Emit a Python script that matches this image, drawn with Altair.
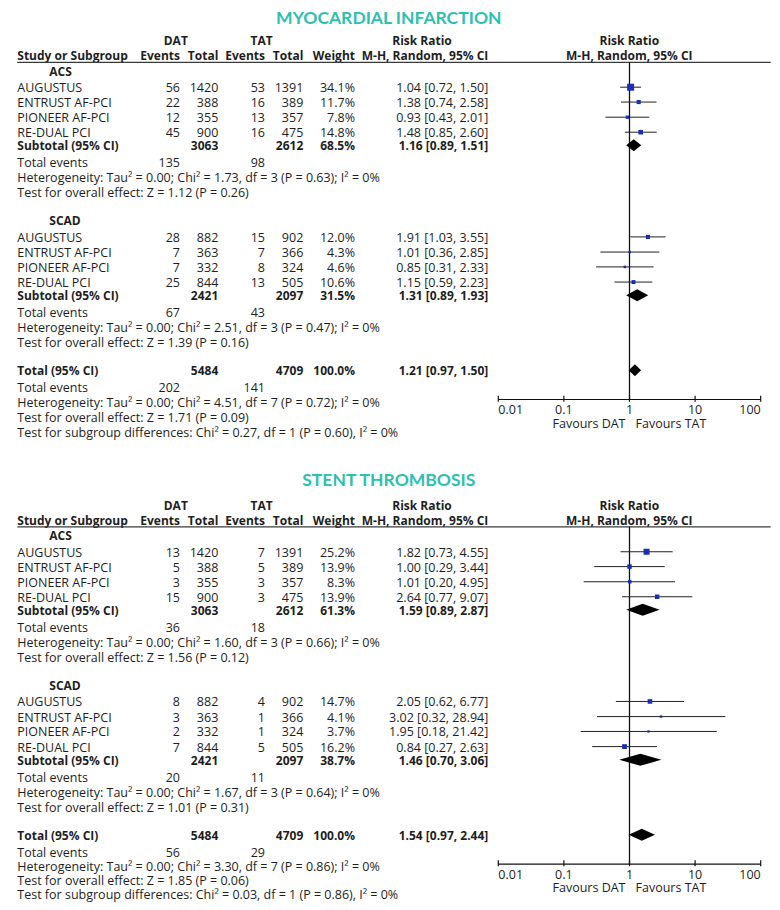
import altair as alt
import pandas as pd

# ------------------------------------------------------------------ data
outcomes = ["MYOCARDIAL INFARCTION", "STENT THROMBOSIS"]
subgroups = ["ACS", "SCAD"]
studies = ["AUGUSTUS", "ENTRUST AF-PCI", "PIONEER AF-PCI", "RE-DUAL PCI"]

# [outcome][subgroup][study]
dat_events = [[[56, 22, 12, 45], [28, 7, 7, 25]],
              [[13, 5, 3, 15], [8, 3, 2, 7]]]
dat_total = [[[1420, 388, 355, 900], [882, 363, 332, 844]],
             [[1420, 388, 355, 900], [882, 363, 332, 844]]]
tat_events = [[[53, 16, 13, 16], [15, 7, 8, 13]],
              [[7, 5, 3, 3], [4, 1, 1, 5]]]
tat_total = [[[1391, 389, 357, 475], [902, 366, 324, 505]],
             [[1391, 389, 357, 475], [902, 366, 324, 505]]]
weights = [[[34.1, 11.7, 7.8, 14.8], [12.0, 4.3, 4.6, 10.6]],
           [[25.2, 13.9, 8.3, 13.9], [14.7, 4.1, 3.7, 16.2]]]
rr = [[[1.04, 1.38, 0.93, 1.48], [1.91, 1.01, 0.85, 1.15]],
      [[1.82, 1.00, 1.01, 2.64], [2.05, 3.02, 1.95, 0.84]]]
rr_lo = [[[0.72, 0.74, 0.43, 0.85], [1.03, 0.36, 0.31, 0.59]],
         [[0.73, 0.29, 0.20, 0.77], [0.62, 0.32, 0.18, 0.27]]]
rr_hi = [[[1.50, 2.58, 2.01, 2.60], [3.55, 2.85, 2.33, 2.23]],
         [[4.55, 3.44, 4.95, 9.07], [6.77, 28.94, 21.42, 2.63]]]

# [outcome][subgroup]
sub_dat_total = [[3063, 2421], [3063, 2421]]
sub_tat_total = [[2612, 2097], [2612, 2097]]
sub_weight = [[68.5, 31.5], [61.3, 38.7]]
sub_rr = [[1.16, 1.31], [1.59, 1.46]]
sub_lo = [[0.89, 0.89], [0.89, 0.70]]
sub_hi = [[1.51, 1.93], [2.87, 3.06]]
sub_dat_events = [[135, 67], [36, 20]]
sub_tat_events = [[98, 43], [18, 11]]
sub_het = [["Heterogeneity: Tau² = 0.00; Chi² = 1.73, df = 3 (P = 0.63); I² = 0%",
            "Heterogeneity: Tau² = 0.00; Chi² = 2.51, df = 3 (P = 0.47); I² = 0%"],
           ["Heterogeneity: Tau² = 0.00; Chi² = 1.60, df = 3 (P = 0.66); I² = 0%",
            "Heterogeneity: Tau² = 0.00; Chi² = 1.67, df = 3 (P = 0.64); I² = 0%"]]
sub_z = [["Test for overall effect: Z = 1.12 (P = 0.26)",
          "Test for overall effect: Z = 1.39 (P = 0.16)"],
         ["Test for overall effect: Z = 1.56 (P = 0.12)",
          "Test for overall effect: Z = 1.01 (P = 0.31)"]]

# [outcome]
tot_dat_total = [5484, 5484]
tot_tat_total = [4709, 4709]
tot_weight = [100.0, 100.0]
tot_rr = [1.21, 1.54]
tot_lo = [0.97, 0.97]
tot_hi = [1.50, 2.44]
tot_dat_events = [202, 56]
tot_tat_events = [141, 29]
tot_het = ["Heterogeneity: Tau² = 0.00; Chi² = 4.51, df = 7 (P = 0.72); I² = 0%",
           "Heterogeneity: Tau² = 0.00; Chi² = 3.30, df = 7 (P = 0.86); I² = 0%"]
tot_z = ["Test for overall effect: Z = 1.71 (P = 0.09)",
         "Test for overall effect: Z = 1.85 (P = 0.06)"]
subgroup_test = ["Test for subgroup differences: Chi² = 0.27, df = 1 (P = 0.60), I² = 0%",
                 "Test for subgroup differences: Chi² = 0.03, df = 1 (P = 0.86), I² = 0%"]

axis_ticks = [0.01, 0.1, 1, 10, 100]
axis_tick_labels = ["0.01", "0.1", "1", "10", "100"]

# ------------------------------------------------------------------ layout (row units, 15 px each)
PANEL_OFFSET = [0.0, 30.97]
TITLE_ROWS = [0.7, 0.55]
HEAD1_ROW = 2.13
HEAD2_ROW = 3.13
RULE_ROW = 3.62
GROUP_ROWS = [4.18, 14.13]
STUDY_ROWS = [[5.28, 6.27, 7.28, 8.28], [15.26, 16.27, 17.26, 18.27]]
SUB_ROWS = [9.15, 19.15]
EVT_ROWS = [10.28, 20.28]
HET_ROWS = [11.28, 21.28]
Z_ROWS = [12.28, 22.28]
TOTAL_ROW = 24.15
TOT_EVT_ROW = 25.27
# the last lines of the lower panel are packed a little tighter to stay on the page
TOT_HET_ROWS = [26.27, 26.22]
TOT_Z_ROWS = [27.28, 27.18]
SUBGRP_ROWS = [28.28, 28.10]
AXIS_ROW = 26.1
TICKLAB_ROW = 26.75
FAVOURS_ROW = 27.65
DIAMOND_HALF = 0.4

COLS = {
    "label": (9.3, "left"), "group": (41.3, "left"),
    "dat_e": (172, "right"), "dat_t": (210.3, "right"),
    "tat_e": (257, "right"), "tat_t": (295.3, "right"),
    "weight": (347, "right"), "rr": (480.3, "right"),
    "h_dat": (167.8, "center"), "h_tat": (253.7, "center"),
    "h_rr1": (414, "center"), "h_rr2": (621.3, "center"),
}

TEXT_FONT = "Open Sans"
TEXT_SIZE = 12.5
BOLD_SIZE = 12
TEXT_DY = 1
TEXT_COLOR = "#1e1e1e"
TEAL = "#2dc0b0"
BLUE = "#1b2db5"

# ------------------------------------------------------------------ build tables
cells = []
studies_rows = []
diamonds = []
titles = []
refs = []


def add(row, col, text, bold=False):
    cells.append({"row": row, "col": col, "text": str(text), "bold": bold})


def rrtxt(a, b, c):
    return f"{a:.2f} [{b:.2f}, {c:.2f}]"


def add_diamond(key, est, lo, hi, row):
    diamonds.append({"id": key, "x": lo, "y": row, "y2": row})
    diamonds.append({"id": key, "x": est, "y": row - DIAMOND_HALF, "y2": row + DIAMOND_HALF})
    diamonds.append({"id": key, "x": hi, "y": row, "y2": row})


for o, name in enumerate(outcomes):
    off = PANEL_OFFSET[o]
    titles.append({"row": TITLE_ROWS[o] + off, "text": name})
    add(HEAD1_ROW + off, "h_dat", "DAT", True)
    add(HEAD1_ROW + off, "h_tat", "TAT", True)
    add(HEAD1_ROW + off, "h_rr1", "Risk Ratio", True)
    add(HEAD1_ROW + off, "h_rr2", "Risk Ratio", True)
    for col, t in [("label", "Study or Subgroup"), ("dat_e", "Events"), ("dat_t", "Total"),
                   ("tat_e", "Events"), ("tat_t", "Total"), ("weight", "Weight"),
                   ("rr", "M-H, Random, 95% CI"), ("h_rr2", "M-H, Random, 95% CI")]:
        add(HEAD2_ROW + off, col, t, True)
    for g, gname in enumerate(subgroups):
        add(GROUP_ROWS[g] + off, "group", gname, True)
        for s, sname in enumerate(studies):
            r = STUDY_ROWS[g][s] + off
            add(r, "label", sname)
            add(r, "dat_e", dat_events[o][g][s])
            add(r, "dat_t", dat_total[o][g][s])
            add(r, "tat_e", tat_events[o][g][s])
            add(r, "tat_t", tat_total[o][g][s])
            add(r, "weight", f"{weights[o][g][s]:.1f}%")
            add(r, "rr", rrtxt(rr[o][g][s], rr_lo[o][g][s], rr_hi[o][g][s]))
            studies_rows.append({"row": r, "rr": rr[o][g][s], "lo": rr_lo[o][g][s],
                                 "hi": rr_hi[o][g][s], "weight": weights[o][g][s]})
        r = SUB_ROWS[g] + off
        add(r, "label", "Subtotal (95% CI)", True)
        add(r, "dat_t", sub_dat_total[o][g], True)
        add(r, "tat_t", sub_tat_total[o][g], True)
        add(r, "weight", f"{sub_weight[o][g]:.1f}%", True)
        add(r, "rr", rrtxt(sub_rr[o][g], sub_lo[o][g], sub_hi[o][g]), True)
        add_diamond(f"{o}-{g}", sub_rr[o][g], sub_lo[o][g], sub_hi[o][g], r)
        add(EVT_ROWS[g] + off, "label", "Total events")
        add(EVT_ROWS[g] + off, "dat_e", sub_dat_events[o][g])
        add(EVT_ROWS[g] + off, "tat_e", sub_tat_events[o][g])
        add(HET_ROWS[g] + off, "label", sub_het[o][g])
        add(Z_ROWS[g] + off, "label", sub_z[o][g])
    r = TOTAL_ROW + off
    add(r, "label", "Total (95% CI)", True)
    add(r, "dat_t", tot_dat_total[o], True)
    add(r, "tat_t", tot_tat_total[o], True)
    add(r, "weight", f"{tot_weight[o]:.1f}%", True)
    add(r, "rr", rrtxt(tot_rr[o], tot_lo[o], tot_hi[o]), True)
    add_diamond(f"{o}-t", tot_rr[o], tot_lo[o], tot_hi[o], r)
    add(TOT_EVT_ROW + off, "label", "Total events")
    add(TOT_EVT_ROW + off, "dat_e", tot_dat_events[o])
    add(TOT_EVT_ROW + off, "tat_e", tot_tat_events[o])
    add(TOT_HET_ROWS[o] + off, "label", tot_het[o])
    add(TOT_Z_ROWS[o] + off, "label", tot_z[o])
    add(SUBGRP_ROWS[o] + off, "label", subgroup_test[o])
    refs.append({"o": o, "rule": RULE_ROW + off, "axis": AXIS_ROW + off,
                 "tick_top": AXIS_ROW + off - 0.25, "tick_bot": AXIS_ROW + off + 0.15,
                 "ticklab": TICKLAB_ROW + off, "fav": FAVOURS_ROW + off,
                 "one": 1.0, "xmin": axis_ticks[0], "xmax": axis_ticks[-1]})

cells_df = pd.DataFrame(cells)
studies_df = pd.DataFrame(studies_rows)
diam_df = pd.DataFrame(diamonds)
titles_df = pd.DataFrame(titles)
refs_df = pd.DataFrame(refs)
ticks_df = pd.DataFrame([{"x": t, "lab": l, "row": r["ticklab"], "top": r["tick_top"],
                          "bot": r["tick_bot"],
                          "al": "left" if i == 0 else ("right" if i == len(axis_ticks) - 1 else "center")}
                         for r in refs for i, (t, l) in enumerate(zip(axis_ticks, axis_tick_labels))])

# ------------------------------------------------------------------ scales
H = 894
W = 764
XS = alt.Scale(type="log", domain=[0.01, 100], range=[490.3, 752.7], nice=False)
YS = alt.Scale(domain=[0, H / 15.0], reverse=True, nice=False, zero=False)


def Y(f):
    return alt.Y(f, type="quantitative", scale=YS, axis=None)


def X(f):
    return alt.X(f, type="quantitative", scale=XS, axis=None)


layers = []

# title
layers.append(alt.Chart(titles_df).mark_text(font="Lato", fontSize=17.5, fontWeight="bold",
                                             color=TEAL, align="center", baseline="middle")
              .encode(x=alt.value(380.8), y=Y("row"), text="text:N"))

# table texts
for col, (xp, al) in COLS.items():
    for b in (False, True):
        sub = cells_df[(cells_df["col"] == col) & (cells_df["bold"] == b)]
        if len(sub) == 0:
            continue
        layers.append(alt.Chart(sub).mark_text(font=TEXT_FONT,
                                               fontSize=BOLD_SIZE if b else TEXT_SIZE,
                                               fontWeight="bold" if b else "normal",
                                               color=TEXT_COLOR, align=al, baseline="middle",
                                               dy=TEXT_DY)
                      .encode(x=alt.value(xp), y=Y("row"), text="text:N"))

# header underline
layers.append(alt.Chart(refs_df).mark_rule(color="#3a3a3a", strokeWidth=1.3)
              .encode(x=alt.value(9.3), x2=alt.value(762.7), y=Y("rule")))

# reference line at RR = 1
layers.append(alt.Chart(refs_df).mark_rule(color="#111111", strokeWidth=1.3)
              .encode(x=X("one"), y=Y("rule"), y2=alt.Y2("axis")))

# axis line and ticks
layers.append(alt.Chart(refs_df).mark_rule(color="#111111", strokeWidth=1.2)
              .encode(x=X("xmin"), x2=alt.X2("xmax"), y=Y("axis")))
layers.append(alt.Chart(ticks_df).mark_rule(color="#111111", strokeWidth=1.2)
              .encode(x=X("x"), y=Y("top"), y2=alt.Y2("bot")))
for al in ("left", "center", "right"):
    layers.append(alt.Chart(ticks_df[ticks_df["al"] == al])
                  .mark_text(font=TEXT_FONT, fontSize=TEXT_SIZE, color=TEXT_COLOR,
                             align=al, baseline="middle", dy=TEXT_DY)
                  .encode(x=X("x"), y=Y("row"), text="lab:N"))

# favours labels
layers.append(alt.Chart(refs_df).mark_text(font=TEXT_FONT, fontSize=TEXT_SIZE, color=TEXT_COLOR,
                                           align="right", baseline="middle", dx=-4, dy=TEXT_DY,
                                           text="Favours DAT")
              .encode(x=X("one"), y=Y("fav")))
layers.append(alt.Chart(refs_df).mark_text(font=TEXT_FONT, fontSize=TEXT_SIZE, color=TEXT_COLOR,
                                           align="left", baseline="middle", dx=6, dy=TEXT_DY,
                                           text="Favours TAT")
              .encode(x=X("one"), y=Y("fav")))

# study CIs and squares
layers.append(alt.Chart(studies_df).mark_rule(color="#222222", strokeWidth=1)
              .encode(x=X("lo"), x2=alt.X2("hi"), y=Y("row")))
layers.append(alt.Chart(studies_df).mark_square(color=BLUE, opacity=1, filled=True)
              .encode(x=X("rr"), y=Y("row"),
                      size=alt.Size("weight:Q", scale=alt.Scale(domain=[0, 100], range=[0, 144]),
                                    legend=None)))

# diamonds
layers.append(alt.Chart(diam_df).mark_area(color="black", orient="vertical", opacity=1)
              .encode(x=X("x"), y=Y("y"), y2=alt.Y2("y2"), detail="id:N"))

chart = alt.layer(*layers).properties(
    width=W, height=H, padding=0,
    autosize=alt.AutoSizeParams(type="none"),
    background="white",
).configure_view(stroke=None)

chart.save("out.html", embed_options={"renderer": "svg", "actions": False})
